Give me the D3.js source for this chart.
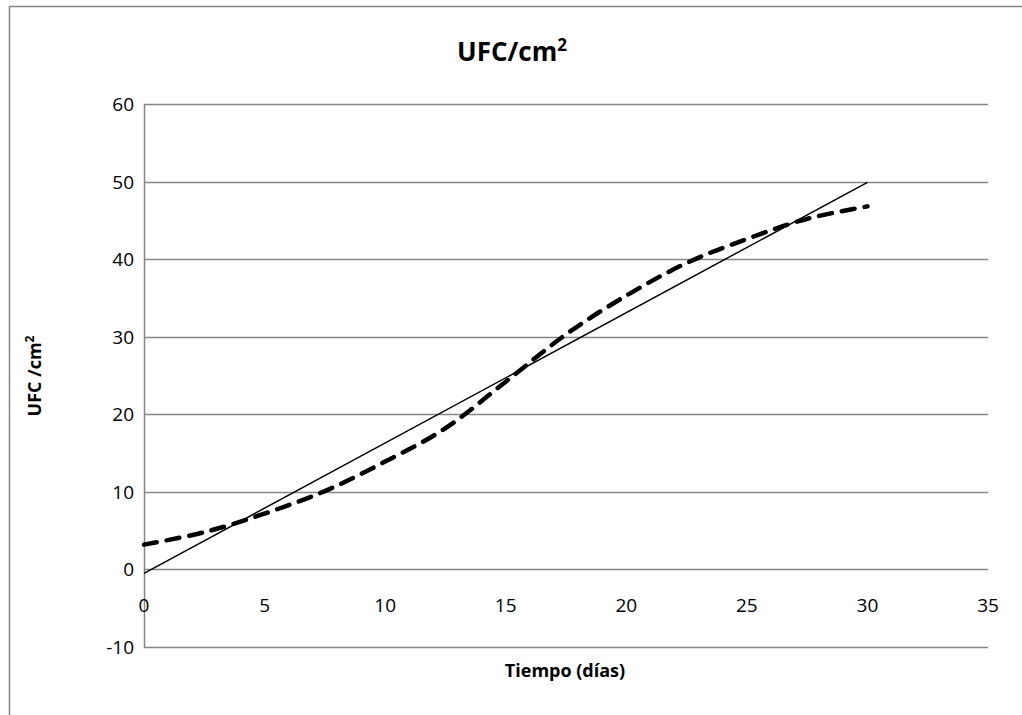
<!DOCTYPE html>
<html>
<head>
<meta charset="utf-8">
<script src="https://cdn.jsdelivr.net/npm/d3@7"></script>
<style>
  body { margin: 0; background: #fff; }
  text { font-family: "Open Sans", "Noto Sans", sans-serif; fill: #000; }
</style>
</head>
<body>
<div id="chart"></div>
<script>
// data
const days = [0, 2.5, 5, 7.5, 10, 12.5, 15, 17.5, 20, 22.5, 25, 27.5, 30];
const ufc = [3.2, 4.8, 7.2, 10.1, 13.9, 18.2, 24.2, 30.3, 35.3, 39.5, 42.6, 45.2, 46.8];
// linear trend line end points
const trendDays = [0, 30];
const trendUfc = [-0.5, 49.9];
const xTicks = [0, 5, 10, 15, 20, 25, 30, 35];
const yTicks = [-10, 0, 10, 20, 30, 40, 50, 60];

const width = 1022, height = 715;
const plot = { left: 144, right: 988, top: 104, bottom: 647 };

const svg = d3.select("#chart").append("svg")
    .attr("width", width)
    .attr("height", height);

// outer chart border (right/bottom fall outside the picture)
svg.append("rect")
    .attr("x", 9.5).attr("y", 6.5)
    .attr("width", 1030).attr("height", 730)
    .attr("fill", "none")
    .attr("stroke", "#868686")
    .attr("stroke-width", 1.5);

const x = d3.scaleLinear().domain([0, 35]).range([plot.left, plot.right]);
const y = d3.scaleLinear().domain([-10, 60]).range([plot.bottom, plot.top]);

// horizontal gridlines
svg.append("g")
    .selectAll("line")
    .data(yTicks)
    .enter()
    .append("line")
    .attr("x1", plot.left).attr("x2", plot.right)
    .attr("y1", d => Math.round(y(d)) + 0.5)
    .attr("y2", d => Math.round(y(d)) + 0.5)
    .attr("stroke", "#868686")
    .attr("stroke-width", 1.5);

// vertical axis line
svg.append("line")
    .attr("x1", plot.left + 0.5).attr("x2", plot.left + 0.5)
    .attr("y1", plot.top).attr("y2", plot.bottom)
    .attr("stroke", "#868686")
    .attr("stroke-width", 1.5);

// y tick labels
svg.append("g")
    .selectAll("text")
    .data(yTicks)
    .enter()
    .append("text")
    .attr("x", 134)
    .attr("y", d => y(d) + 7)
    .attr("text-anchor", "end")
    .attr("font-size", 19)
    .text(d => d);

// x tick labels, under the zero line
svg.append("g")
    .selectAll("text")
    .data(xTicks)
    .enter()
    .append("text")
    .attr("x", d => x(d))
    .attr("y", 612)
    .attr("text-anchor", "middle")
    .attr("font-size", 19)
    .text(d => d);

// trend line
const line = d3.line()
    .x(d => x(d[0]))
    .y(d => y(d[1]));

svg.append("path")
    .datum(d3.zip(trendDays, trendUfc))
    .attr("d", line)
    .attr("fill", "none")
    .attr("stroke", "#000")
    .attr("stroke-width", 1.5);

// measured series, smoothed and dashed
const smooth = d3.line()
    .x(d => x(d[0]))
    .y(d => y(d[1]))
    .curve(d3.curveCatmullRom);

svg.append("path")
    .datum(d3.zip(days, ufc))
    .attr("d", smooth)
    .attr("fill", "none")
    .attr("stroke", "#000")
    .attr("stroke-width", 4.5)
    .attr("stroke-linecap", "round")
    .attr("stroke-dasharray", "13,10");

// titles
svg.append("text")
    .attr("x", 512).attr("y", 61)
    .attr("text-anchor", "middle")
    .attr("font-size", 26)
    .attr("font-weight", "bold")
    .html('UFC/cm<tspan dy="-10" font-size="17">2</tspan>');

svg.append("text")
    .attr("x", 565).attr("y", 677)
    .attr("text-anchor", "middle")
    .attr("font-size", 18)
    .attr("font-weight", "bold")
    .text("Tiempo (días)");

svg.append("text")
    .attr("transform", "translate(41,376) rotate(-90)")
    .attr("text-anchor", "middle")
    .attr("font-size", 18)
    .attr("font-weight", "bold")
    .html('UFC /cm<tspan dy="-7" font-size="12">2</tspan>');
</script>
</body>
</html>
